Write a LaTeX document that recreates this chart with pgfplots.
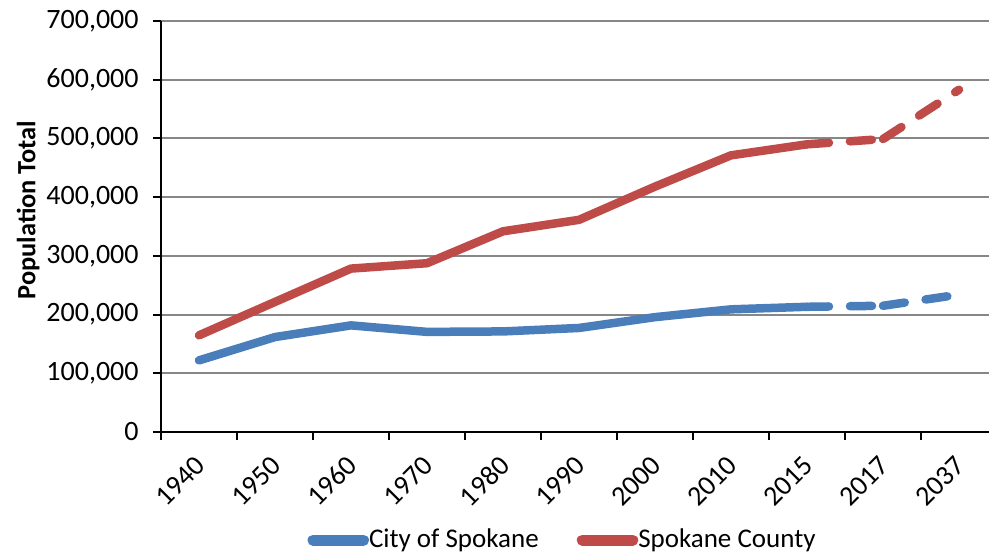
\documentclass[border=0pt]{standalone}
\usepackage{pgfplots}
\pgfplotsset{compat=1.18}
\usepackage{fontspec}
\setmainfont{Carlito}
\usetikzlibrary{calc}
\definecolor{cblue}{HTML}{4A7EBB}
\definecolor{cred}{HTML}{BE4B48}
\begin{document}
\fontsize{14}{16}\selectfont
\begin{tikzpicture}
\begin{axis}[name=ax, scale only axis, width=418pt, height=205.5pt,
  xmin=0.5, xmax=11.5, ymin=0, ymax=700000,
  axis lines=left, axis line style={-, black, line width=1pt},
  xtick={1,...,11},
  xticklabels={1940,1950,1960,1970,1980,1990,2000,2010,2015,2017,2037},
  major x tick style={draw=none},
  minor xtick={0.5,1.5,2.5,3.5,4.5,5.5,6.5,7.5,8.5,9.5,10.5,11.5},
  ytick={0,100000,200000,300000,400000,500000,600000,700000},
  ymajorgrids, grid style={color=black!47, line width=1pt},
  tick align=outside, major tick length=4pt, minor tick length=4pt,
  tick style={black, line width=1pt},
  scaled y ticks=false,
  /pgf/number format/.cd, fixed, 1000 sep={,}, assume math mode=true, /pgfplots/.cd,
  ticklabel style={font=\fontsize{14}{16}\selectfont},
  xticklabel style={xshift=-2.7pt, yshift=-6.9pt, rotate=45, anchor=north east, inner sep=0pt},
  yticklabel style={inner sep=0pt, xshift=-7pt},
  ylabel={\bfseries Population Total},
  ylabel style={at={(axis description cs:-0.159,0.54)}, anchor=center, rotate=0, font=\fontsize{13.2}{15}\selectfont},
  legend columns=2,
  legend style={at={(0.1676,-0.263)}, anchor=west, draw=none, fill=none,
    font=\fontsize{13.5}{15}\selectfont,
    /tikz/every even column/.append style={column sep=19pt},
    nodes={inner sep=0pt}},
  legend image code/.code={\draw[#1, line width=5.5pt, line cap=round, solid] (2.75pt,0pt) -- (28pt,0pt);},
]
\addplot[cblue, line width=4.25pt, line join=round, line cap=round] coordinates {
  (1,122001) (2,161721) (3,181608) (4,170516) (5,171300) (6,177196) (7,195629) (8,208916) (9,213272)};
\addlegendentry{City of Spokane}
\addplot[cred, line width=4.25pt, line join=round, line cap=round] coordinates {
  (1,164652) (2,221561) (3,278333) (4,287487) (5,341835) (6,361364) (7,417939) (8,471221) (9,490000)};
\addlegendentry{Spokane County}
\addplot[cblue, line width=4.25pt, line cap=round, dash pattern=on 11pt off 10.5pt, forget plot] coordinates {(9,213272) (10,215000)};
\addplot[cblue, line width=4.25pt, line cap=round, dash pattern=on 11pt off 10.5pt, forget plot] coordinates {(10,215000) (11,234000)};
\addplot[cred, line width=4.25pt, line cap=round, dash pattern=on 11pt off 10.5pt, forget plot] coordinates {(9,490000) (10,499000)};
\addplot[cred, line width=4.25pt, line cap=round, dash pattern=on 11pt off 10.5pt, forget plot] coordinates {(10,499000) (11,583000)};
\end{axis}
\pgfresetboundingbox
\path[use as bounding box] ($(ax.south west)+(-80.5pt,-60pt)$) rectangle ($(ax.south west)+(414pt,216pt)$);
\end{tikzpicture}
\end{document}
